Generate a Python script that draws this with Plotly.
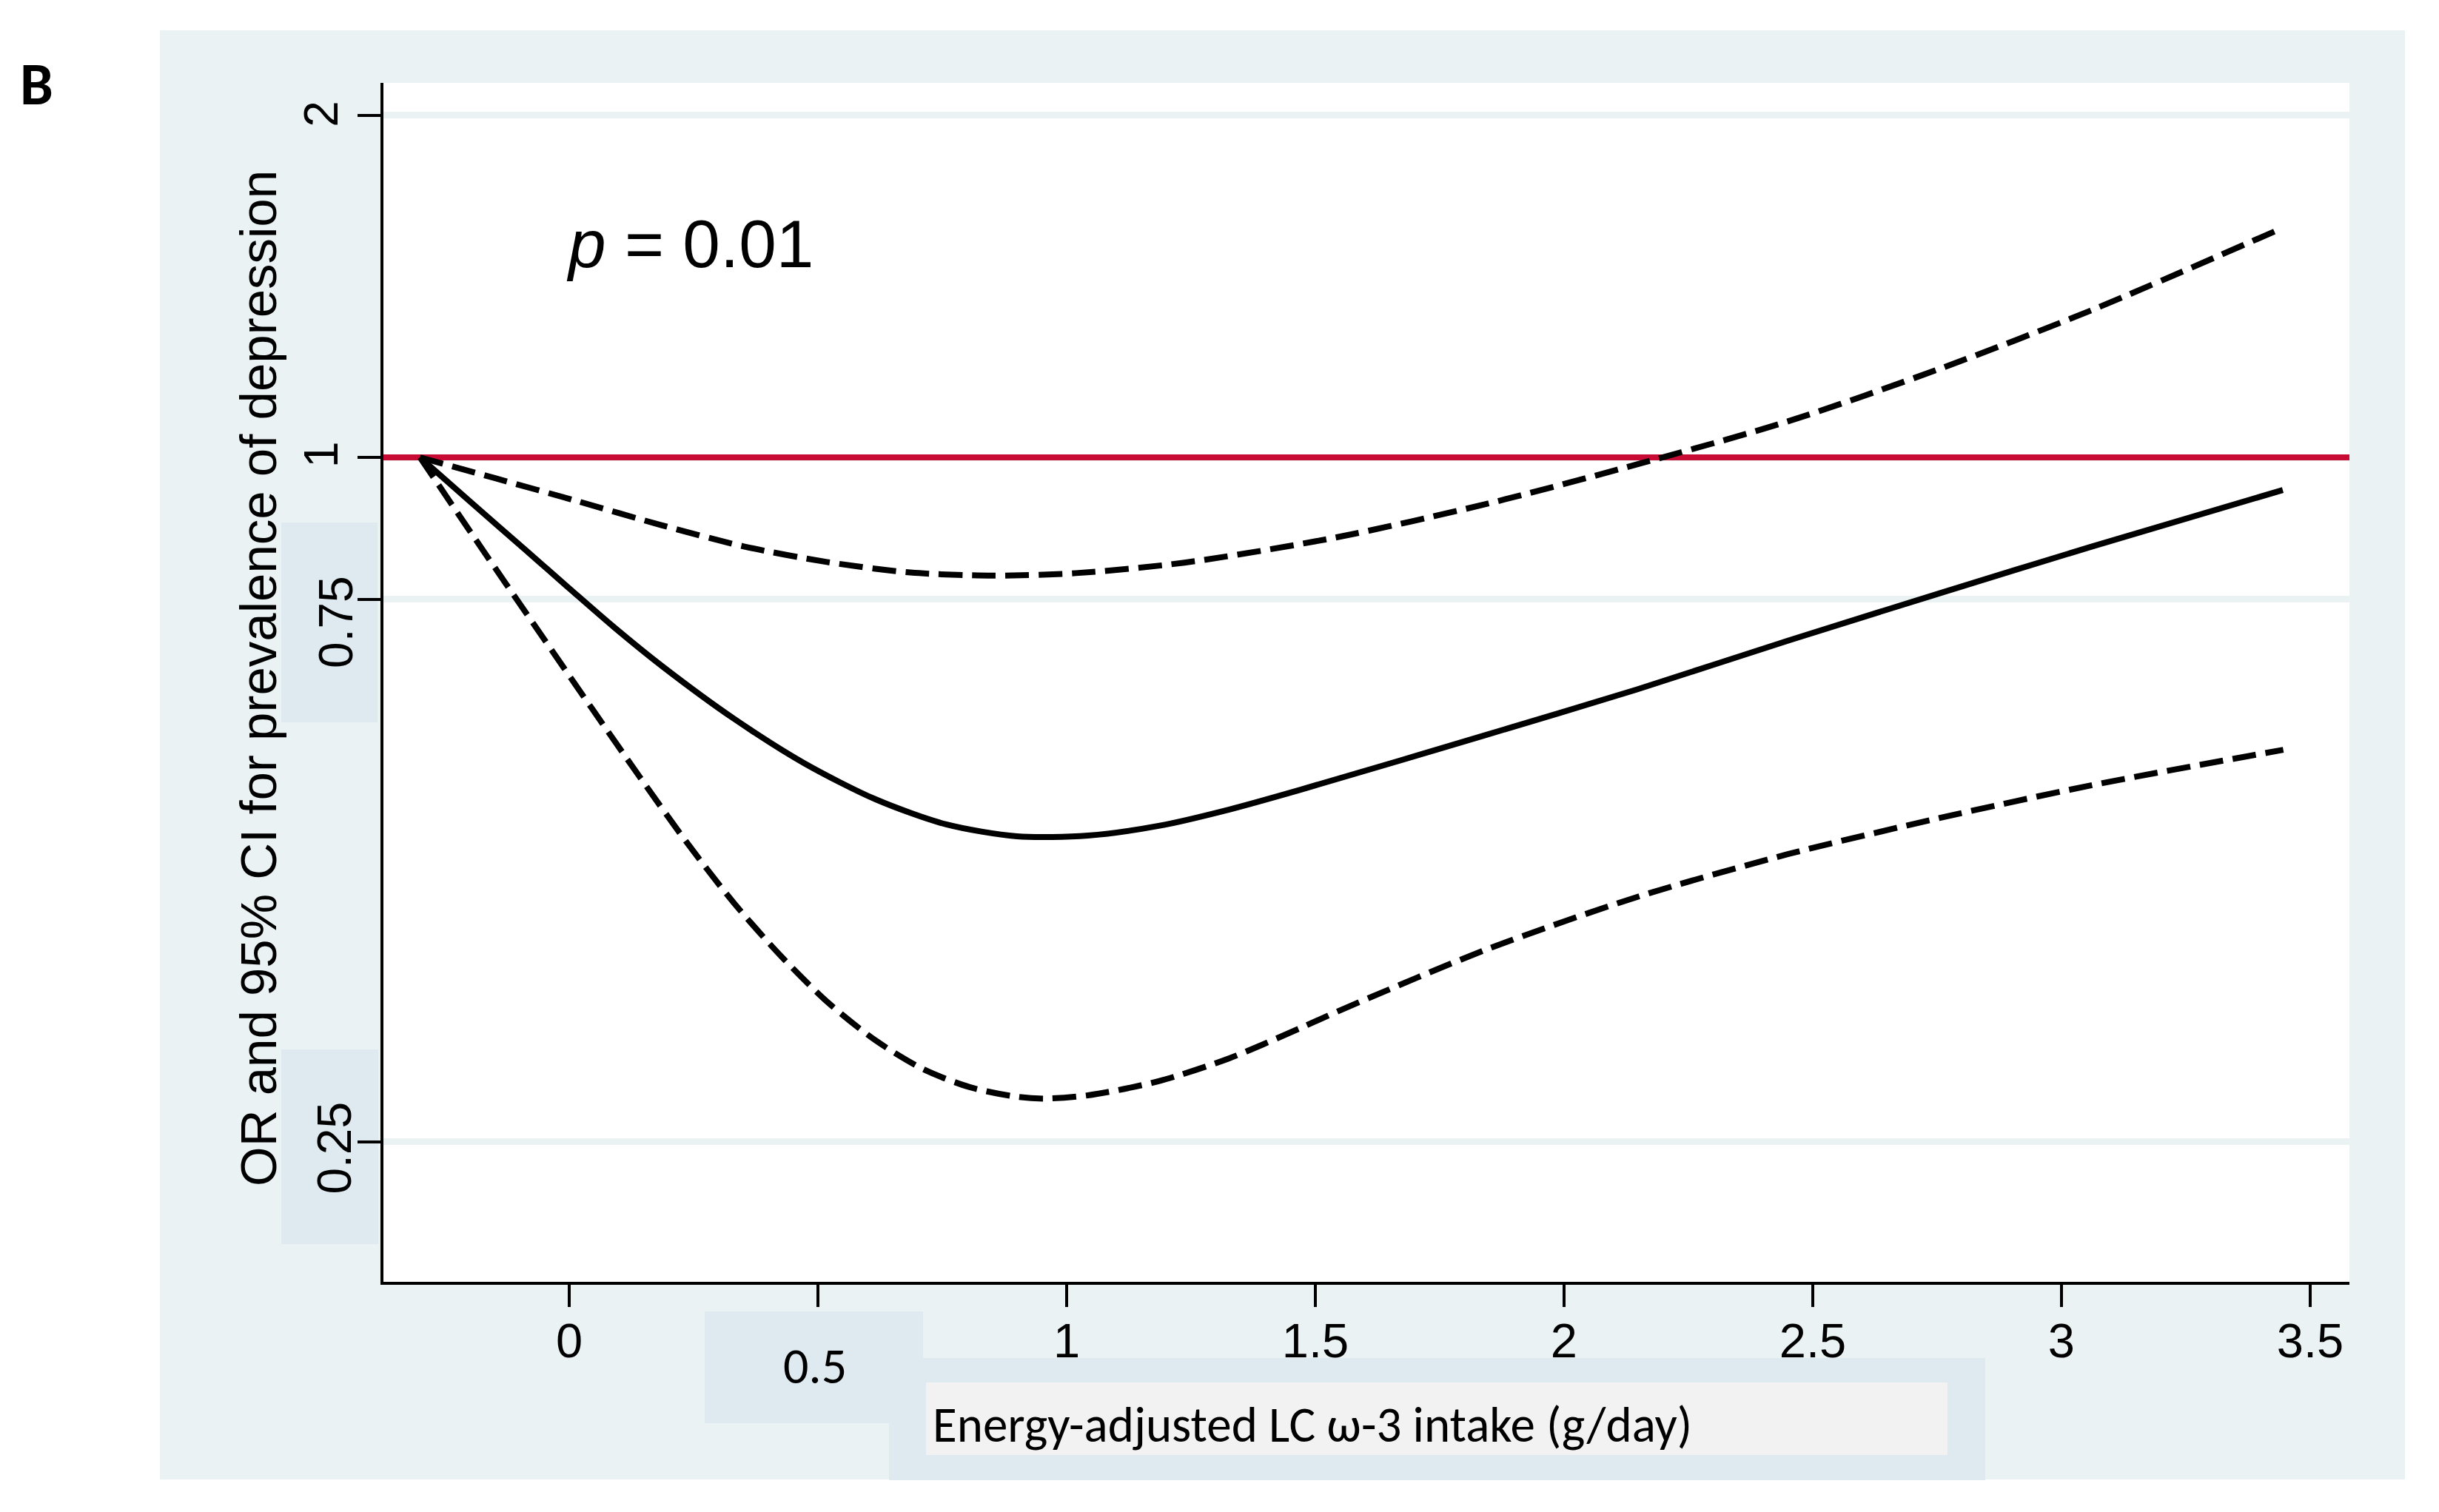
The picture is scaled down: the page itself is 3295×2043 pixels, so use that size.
import math
import plotly.graph_objects as go

# --- data ---
x_or = [-0.30, -0.20, -0.088, 0.0, 0.09, 0.189, 0.331, 0.473, 0.616, 0.758,
        0.900, 1.043, 1.185, 1.327, 1.470, 1.844, 2.147, 2.451, 2.754,
        3.058, 3.445]
or_vals = [1.0, 0.915, 0.829, 0.767, 0.709, 0.654, 0.589, 0.538, 0.5002,
           0.4754, 0.4641, 0.4648, 0.474, 0.490, 0.510, 0.570, 0.625,
           0.690, 0.759, 0.834, 0.936]

x_upper = [-0.30, -0.150, 0.017, 0.184, 0.351, 0.518, 0.686, 0.852, 1.019,
           1.237, 1.540, 1.844, 2.147, 2.451, 2.754, 3.058, 3.439]
ci_upper = [1.0, 0.959, 0.915, 0.872, 0.835, 0.809, 0.792, 0.787, 0.791,
            0.808, 0.850, 0.910, 0.986, 1.076, 1.196, 1.346, 1.588]

x_lower = [-0.30, -0.19, -0.066, 0.046, 0.141, 0.236, 0.331, 0.426, 0.521,
           0.616, 0.710, 0.805, 0.900, 0.957, 1.043, 1.185, 1.327, 1.470,
           1.540, 1.844, 2.147, 2.451, 2.754, 3.058, 3.446]
ci_lower = [1.0, 0.849, 0.7078, 0.601, 0.524, 0.4586, 0.4055, 0.364, 0.3312,
            0.3069, 0.2898, 0.2792, 0.2738, 0.2728, 0.2746, 0.2826, 0.296,
            0.3147, 0.3248, 0.369, 0.4104, 0.4477, 0.4815, 0.5144, 0.553]

y_ticks = [0.25, 0.75, 1, 2]
y_tick_labels = ["0.25", "0.75", "1", "2"]
x_ticks = [0, 0.5, 1, 1.5, 2, 2.5, 3, 3.5]
x_tick_labels = ["0", "", "1", "1.5", "2", "2.5", "3", "3.5"]
ref_value = 1

x_range = [-0.3735, 3.579]
y_range = [-0.7254, 0.3295]  # log10

# window size and plot area in window pixels
W, H = 3295, 2043
OFF = 8  # page body margin
L, R, T, B = 518, 3174, 112, 1732
PW, PH = R - L, B - T
FW, FH = W - OFF, H - OFF

PANEL = "#EAF2F3"
BOX = "#DFEAF0"
SANS = "Liberation Sans, Arial, sans-serif"
CALIBRI = "Carlito, Lato, sans-serif"


def px(x):
    return (x - L) / PW


def py(y):
    return (B - y) / PH


def rect(x0, y0, x1, y1, color):
    return dict(type="rect", xref="paper", yref="paper", layer="below",
                x0=px(x0), x1=px(x1), y0=py(y1), y1=py(y0),
                fillcolor=color, line=dict(width=0))


fig = go.Figure()

dash = "32px,13px"
fig.add_trace(go.Scatter(x=x_range, y=[ref_value, ref_value], mode="lines",
                         line=dict(color="#C70B35", width=8), hoverinfo="skip"))
fig.add_trace(go.Scatter(x=x_upper, y=ci_upper, mode="lines",
                         line=dict(color="black", width=8, dash=dash,
                                   shape="spline", smoothing=0.8)))
fig.add_trace(go.Scatter(x=x_lower, y=ci_lower, mode="lines",
                         line=dict(color="black", width=8, dash=dash,
                                   shape="spline", smoothing=0.8)))
fig.add_trace(go.Scatter(x=x_or, y=or_vals, mode="lines",
                         line=dict(color="black", width=8,
                                   shape="spline", smoothing=0.8)))

shapes = [
    rect(216, 41, 3249, 1999, PANEL),
    rect(L, T, R, B, "white"),
    rect(380, 706, 510, 976, BOX),
    rect(380, 1418, 511, 1681, BOX),
    rect(952, 1772, 1247, 1923, BOX),
    rect(1201, 1835, 2682, 2000, BOX),
    rect(1251, 1868, 2631, 1966, "#F2F2F2"),
]

annotations = []
# y tick labels (rotated), some shifted as in the original
label_x = {"2": 434, "1": 434, "0.75": 454, "0.25": 452}
label_shift = {"2": 2, "1": 4, "0.75": -31, "0.25": -9}
for v, t in zip(y_ticks, y_tick_labels):
    annotations.append(dict(x=px(label_x[t]), xref="paper",
                            y=math.log10(v), yref="y",
                            text=t, textangle=-90, showarrow=False,
                            xanchor="center", yanchor="middle",
                            yshift=label_shift[t],
                            font=dict(family=SANS, size=64, color="black")))
annotations += [
    dict(x=0.5, xref="x", y=py(1845), yref="paper", text="0.5",
         showarrow=False, xanchor="center", yanchor="middle", xshift=-4,
         font=dict(family=CALIBRI, size=68, color="black")),
    dict(x=px(1258), xref="paper", y=py(1925), yref="paper",
         text="Energy-adjusted LC \u03c9-3 intake (g/day)", showarrow=False,
         xanchor="left", yanchor="middle",
         font=dict(family=CALIBRI, size=67, color="black")),
    dict(x=px(349), xref="paper", y=py(917), yref="paper",
         text="OR and 95% CI for prevalence of depression", textangle=-90,
         showarrow=False, xanchor="center", yanchor="middle",
         font=dict(family=SANS, size=69, color="black")),
    dict(x=px(763), xref="paper", y=py(330), yref="paper",
         text="<i>p</i> = 0.01", showarrow=False,
         xanchor="left", yanchor="middle",
         font=dict(family=SANS, size=91, color="black")),
    dict(x=px(49), xref="paper", y=py(113), yref="paper", text="<b>B</b>",
         showarrow=False, xanchor="center", yanchor="middle",
         font=dict(family=CALIBRI, size=80, color="black")),
]

fig.update_layout(
    width=FW, height=FH,
    margin=dict(l=L - OFF, r=FW - (R - OFF), t=T - OFF, b=FH - (B - OFF), pad=0),
    paper_bgcolor="white", plot_bgcolor="white",
    showlegend=False,
    shapes=shapes, annotations=annotations,
)
fig.update_xaxes(range=x_range, tickvals=x_ticks, ticktext=x_tick_labels,
                 ticks="outside", ticklen=30, tickwidth=4, tickcolor="black",
                 showline=True, linecolor="black", linewidth=4,
                 showgrid=False, zeroline=False, ticklabelstandoff=-10,
                 tickfont=dict(family=SANS, size=65, color="black"))
fig.update_yaxes(type="log", range=y_range, tickvals=y_ticks,
                 ticks="outside", ticklen=31, tickwidth=4, tickcolor="black",
                 showline=True, linecolor="black", linewidth=4,
                 showgrid=True, gridcolor=PANEL, gridwidth=9,
                 zeroline=False, showticklabels=False)

fig.write_html("out.html")
